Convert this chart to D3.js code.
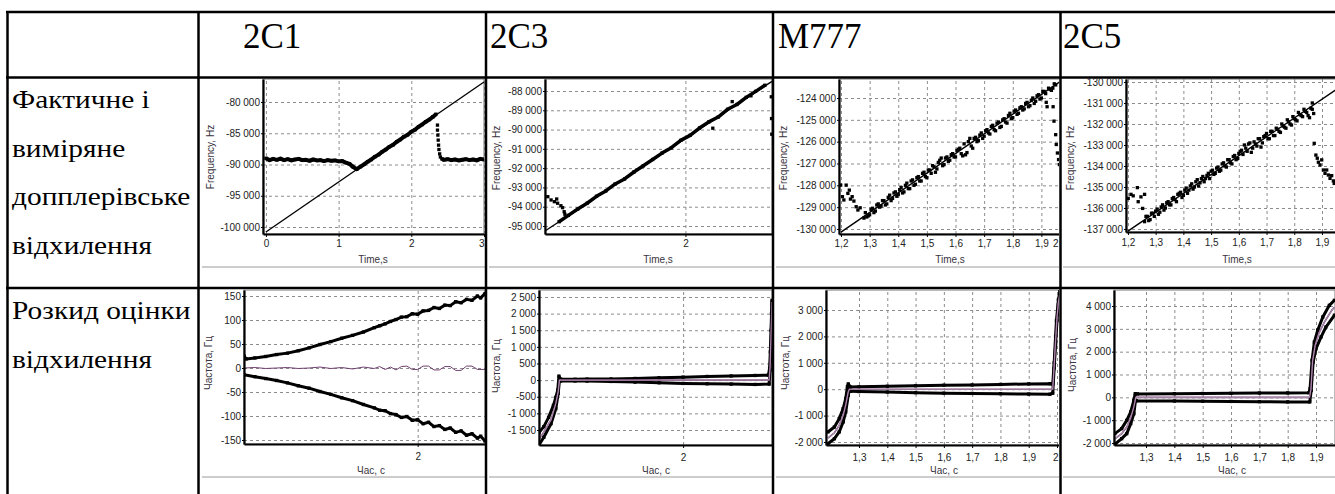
<!DOCTYPE html>
<html>
<head>
<meta charset="utf-8">
<script src="https://cdn.jsdelivr.net/npm/d3@7"></script>
<style>
  body { margin: 0; background: #fff; }
  svg { display: block; }
  .grid line { stroke: #8c8c8c; stroke-dasharray: 3,3; }
  .grid path { display: none; }
  .ax text { font-family: "Liberation Sans", Arial, sans-serif; font-size: 10px; fill: #222; }
  .ax path, .ax line { stroke: #000; }
  .ttl { font-family: "Liberation Sans", Arial, sans-serif; font-size: 10px; fill: #3a3340; }
  .cap { font-family: "Liberation Serif", "Times New Roman", serif; fill: #000; }
</style>
</head>
<body>
<svg id="chart" width="1335" height="494"></svg>
<script>
// ---- table text ----
const colNames = ['2C1', '2C3', 'M777', '2C5'];
const rowLabels1 = ['Фактичне і', 'виміряне', 'допплерівське', 'відхилення'];
const rowLabels2 = ['Розкид оцінки', 'відхилення'];

// ---- tick values ----
const yTicks1 = [-100000, -95000, -90000, -85000, -80000];
const yTicks2 = [-95000, -94000, -93000, -92000, -91000, -90000, -89000, -88000];
const yTicks3 = [-130000, -129000, -128000, -127000, -126000, -125000, -124000];
const yTicks4 = [-137000, -136000, -135000, -134000, -133000, -132000, -131000, -130000];
const yTicks5 = [-150, -100, -50, 0, 50, 100, 150];
const yTicks6 = [-1500, -1000, -500, 0, 500, 1000, 1500, 2000, 2500];
const yTicks7 = [-2000, -1000, 0, 1000, 2000, 3000];
const yTicks8 = [-2000, -1000, 0, 1000, 2000, 3000, 4000];
const xTicks1 = [0, 1, 2, 3];
const xTicks2 = [2];
const xTicks3 = [1.2, 1.3, 1.4, 1.5, 1.6, 1.7, 1.8, 1.9, 2];
const xTicks4 = [1.2, 1.3, 1.4, 1.5, 1.6, 1.7, 1.8, 1.9];
const xTicks7 = [1.3, 1.4, 1.5, 1.6, 1.7, 1.8, 1.9, 2];
const xTicks8 = [1.3, 1.4, 1.5, 1.6, 1.7, 1.8, 1.9];

// ---- row 1: actual (line) and measured doppler shift, [time s, Hz] ----
const actual1 = [[0, -100800], [3, -76800]];
const band1 = [[0,-89000],[0.05,-89300],[0.1,-89100],[0.15,-89250],[0.2,-89050],[0.25,-89300],[0.3,-89150],[0.35,-89350],
  [0.4,-89200],[0.45,-89100],[0.5,-89300],[0.55,-89250],[0.6,-89400],[0.65,-89200],[0.7,-89350],[0.75,-89300],[0.8,-89450],
  [0.85,-89300],[0.9,-89400],[0.95,-89350],[1,-89500],[1.05,-89450],[1.1,-89700],[1.15,-89900],[1.18,-90200],[1.2,-90400],
  [1.25,-90750],[1.3,-90350],[1.35,-89980],[1.4,-89550],[1.45,-89200],[1.5,-88750],[1.55,-88420],[1.6,-87950],[1.65,-87600],
  [1.7,-87150],[1.75,-86850],[1.8,-86350],[1.85,-86000],[1.9,-85550],[1.95,-85250],[2,-84750],[2.05,-84450],[2.1,-83950],
  [2.15,-83600],[2.2,-83150],[2.25,-82800],[2.3,-82350],[2.34,-81950],[null,null],
  [2.42,-89100],[2.45,-89250],[2.5,-89150],[2.55,-89300],[2.6,-89200],[2.65,-89350],[2.7,-89250],[2.75,-89150],[2.8,-89300],
  [2.85,-89200],[2.9,-89350],[2.95,-89100],[3,-89200]];
const dots1 = [[2.36,-83700],[2.36,-84500],[2.365,-85300],[2.37,-86100],[2.375,-86900],[2.38,-87600],[2.39,-88300],[2.4,-88800]];

const actual2 = [[1.4, -95260], [2.37, -87500]];
const band2 = [[1.46,-94780],[1.5,-94450],[1.54,-94120],[1.58,-93820],[1.62,-93460],[1.66,-93180],[1.7,-92820],[1.74,-92560],
  [1.78,-92200],[1.82,-91880],[1.86,-91550],[1.9,-91220],[1.94,-90940],[1.98,-90560],[2.02,-90300],[2.06,-89920],[2.1,-89600],
  [2.14,-89350],[2.18,-88950],[2.22,-88700],[2.26,-88330],[2.3,-88020],[2.34,-87700]];
const dots2 = [[1.412,-93480],[1.426,-93650],[1.44,-93740],[1.45,-93600],[1.454,-93820],[1.468,-93950],[1.475,-94050],
  [1.482,-94260],[1.485,-94390],[2.117,-89930],[2.2,-88550],[2.28,-88250],[2.367,-88300],[2.368,-89430],[2.369,-90240]];

const actual3 = [[1.2, -130140], [2.0, -122940]];
const dots3 = [[1.199,-127990],[1.205,-128520],[1.21,-128670],[1.218,-127990],[1.224,-128370],[1.229,-128220],[1.233,-128630],
  [1.239,-128520],[1.245,-128720],[1.253,-128980],[1.259,-129130],[1.267,-129030],
  [1.28,-129500],[1.29,-129450],[1.3,-129350],[1.31,-129050],[1.32,-129180],[1.33,-128850],[1.34,-128950],[1.35,-128700],
  [1.36,-128850],[1.37,-128450],[1.38,-128600],[1.39,-128300],[1.4,-128420],[1.41,-128100],[1.42,-128300],[1.43,-127900],
  [1.44,-128150],[1.45,-127750],[1.46,-127950],[1.47,-127600],[1.48,-127800],[1.49,-127400],[1.5,-127650],[1.51,-127300],
  [1.52,-127100],[1.53,-127400],[1.54,-126950],[1.55,-126750],[1.56,-127050],[1.57,-126700],[1.58,-126850],[1.59,-126550],
  [1.6,-126700],[1.61,-126350],[1.62,-126550],[1.63,-126100],[1.64,-126500],[1.65,-125850],[1.66,-126300],[1.67,-125800],
  [1.68,-125950],[1.69,-125600],[1.7,-125750],[1.71,-125450],[1.72,-125650],[1.73,-125250],[1.74,-125500],[1.75,-125100],
  [1.76,-125300],[1.77,-124950],[1.78,-125150],[1.79,-124700],[1.8,-124900],[1.81,-124550],[1.82,-124700],[1.83,-124400],
  [1.84,-124500],[1.85,-124200],[1.86,-124350],[1.87,-124000],[1.88,-124150],[1.89,-123850],[1.9,-124000],[1.91,-123700],
  [1.92,-124400],[1.93,-123600],[1.94,-123550],[1.95,-123400],
  [1.917,-124200],[1.941,-124400],[1.944,-125060],[1.95,-125680],[1.952,-126130],[1.956,-126520],[1.96,-126820],[1.963,-127050]];
const dots3b = [[1.285,-129250],[1.295,-129400],[1.305,-129100],[1.315,-129250],[1.325,-128900],[1.335,-129000],
  [1.345,-128700],[1.355,-128900],[1.365,-128550],[1.375,-128700],[1.385,-128350],[1.395,-128500],[1.405,-128200],
  [1.415,-128350],[1.425,-128000],[1.435,-128150],[1.445,-127800],[1.455,-128000],[1.465,-127650],[1.475,-127800],
  [1.485,-127450],[1.495,-127600],[1.505,-127300],[1.515,-127450],[1.525,-127150],[1.535,-127250],[1.545,-126850],
  [1.555,-127100],[1.565,-126750],[1.575,-126900],[1.585,-126600],[1.595,-126700],[1.605,-126400],[1.615,-126300],
  [1.625,-126650],[1.635,-126600],[1.645,-126000],[1.655,-126200],[1.665,-125850],[1.675,-126000],[1.685,-125700],
  [1.695,-125850],[1.705,-125500],[1.715,-125600],[1.725,-125300],[1.735,-125450],[1.745,-125150],[1.755,-125350],
  [1.765,-125000],[1.775,-125100],[1.785,-124800],[1.795,-124950],[1.805,-124600],[1.815,-124750],[1.825,-124450],
  [1.835,-124550],[1.845,-124250],[1.855,-124400],[1.865,-124100],[1.875,-124250],[1.885,-123900],[1.895,-124050],
  [1.905,-123700],[1.915,-123800],[1.925,-123550],[1.935,-123650],[1.945,-123350]];

const actual4 = [[1.2, -137100], [2.0, -129920]];
const dots4 = [[1.201,-135540],[1.211,-135350],[1.219,-135420],[1.234,-135030],[1.237,-135700],[1.247,-135470],[1.253,-136020],
  [1.26,-135350],
  [1.26,-136650],[1.27,-136400],[1.28,-136550],[1.29,-136250],[1.3,-136150],[1.31,-136300],[1.32,-135950],[1.33,-136100],
  [1.34,-135750],[1.35,-135850],[1.36,-135550],[1.37,-135600],[1.38,-135350],[1.39,-135250],[1.4,-135400],[1.41,-135050],
  [1.42,-135150],[1.43,-134850],[1.44,-135000],[1.45,-134650],[1.46,-134800],[1.47,-134500],[1.48,-134600],[1.49,-134350],
  [1.5,-134250],[1.51,-134400],[1.52,-134100],[1.53,-134250],[1.54,-133900],[1.55,-134000],[1.56,-133700],[1.57,-133850],
  [1.58,-133550],[1.59,-133700],[1.6,-133400],[1.61,-133250],[1.62,-133000],[1.63,-133300],[1.64,-132900],[1.65,-133150],
  [1.66,-132950],[1.67,-132700],[1.68,-133100],[1.69,-132600],[1.7,-132450],[1.71,-132700],[1.72,-132350],[1.73,-132550],
  [1.74,-132250],[1.75,-132400],[1.76,-132100],[1.77,-132200],[1.78,-131900],[1.79,-132050],[1.8,-131750],[1.81,-131850],
  [1.82,-131550],[1.83,-131650],[1.84,-131400],[1.85,-131600],[1.86,-131250],[1.87,-131500],[1.865,-131000],
  [1.872,-132920],[1.878,-133480],[1.883,-133630],[1.887,-133820],[1.893,-133950],[1.899,-133710],[1.905,-134190],
  [1.911,-134350],[1.917,-134190],[1.923,-134430],[1.929,-134590],[1.935,-134460],[1.941,-134710],[1.944,-134830]];
const dots4b = [[1.265,-136400],[1.275,-136600],[1.285,-136250],[1.295,-136400],[1.305,-136050],[1.315,-136200],
  [1.325,-135850],[1.335,-136000],[1.345,-135700],[1.355,-135850],[1.365,-135500],[1.375,-135700],[1.385,-135300],
  [1.395,-135500],[1.405,-135150],[1.415,-135300],[1.425,-134950],[1.435,-135100],[1.445,-134750],[1.455,-134950],
  [1.465,-134600],[1.475,-134750],[1.485,-134450],[1.495,-134600],[1.505,-134200],[1.515,-134350],[1.525,-134050],
  [1.535,-134200],[1.545,-133850],[1.555,-134050],[1.565,-133700],[1.575,-133900],[1.585,-133500],[1.595,-133650],
  [1.605,-133300],[1.615,-133450],[1.625,-133150],[1.635,-132950],[1.645,-133350],[1.655,-132850],[1.665,-133050],
  [1.675,-132700],[1.685,-132900],[1.695,-132550],[1.705,-132700],[1.715,-132350],[1.725,-132550],[1.735,-132200],
  [1.745,-132350],[1.755,-132000],[1.765,-132150],[1.775,-131800],[1.785,-132000],[1.795,-131650],[1.805,-131800],
  [1.815,-131450],[1.825,-131600],[1.835,-131300],[1.845,-131450],[1.855,-131700],[1.865,-131300]];

// ---- row 2: spread of the estimate, [time s, Hz] ----
const upper5 = [[1.2,25],[1.21,19],[1.25,21],[1.3,24],[1.35,28],[1.4,31],[1.45,36],[1.5,42],[1.55,49],[1.6,55],[1.65,62],
  [1.7,68],[1.75,75],[1.8,84],[1.825,88],[1.85,92],[1.875,97],[1.9,101],[1.925,106],[1.95,107],[1.975,113],[2,112],
  [2.025,119],[2.05,120],[2.075,126],[2.1,124],[2.125,131],[2.15,130],[2.175,138],[2.2,136],[2.225,143],[2.25,141],
  [2.275,150],[2.29,146],[2.31,155]];
const lower5 = [[1.2,-14],[1.25,-18],[1.3,-22],[1.35,-26],[1.4,-31],[1.45,-37],[1.5,-42],[1.55,-49],[1.6,-55],[1.65,-62],
  [1.7,-68],[1.75,-76],[1.8,-83],[1.825,-88],[1.85,-89],[1.875,-95],[1.9,-97],[1.925,-103],[1.95,-101],[1.975,-109],
  [2,-108],[2.025,-116],[2.05,-113],[2.075,-122],[2.1,-120],[2.125,-128],[2.15,-125],[2.175,-134],[2.2,-131],[2.225,-140],
  [2.25,-137],[2.275,-146],[2.29,-142],[2.31,-152]];
const mid5 = [[1.2,0],[1.25,1],[1.3,-1],[1.35,0],[1.4,1],[1.45,-1],[1.5,0],[1.55,2],[1.6,-1],[1.65,1],[1.7,-2],[1.75,2],
  [1.8,-1],[1.825,3],[1.85,-3],[1.875,2],[1.9,-4],[1.925,3],[1.95,4],[1.975,-3],[2,-3],[2.025,4],[2.05,4],[2.075,-4],
  [2.1,-4],[2.125,3],[2.15,3],[2.175,-5],[2.2,-5],[2.225,4],[2.25,4],[2.275,-3],[2.31,-3]];

const upper6 = [[1.4,-1580],[1.42,-1400],[1.44,-1120],[1.46,-760],[1.47,-520],[1.478,-300],[1.483,120],[1.49,30],[1.55,25],
  [1.6,30],[1.7,35],[1.8,50],[1.9,70],[2,90],[2.1,110],[2.2,125],[2.3,140],[2.355,150],[2.36,350],[2.363,850],[2.366,1500],
  [2.368,2000],[2.37,2400]];
const lower6 = [[1.4,-1950],[1.42,-1720],[1.45,-1310],[1.47,-860],[1.48,-400],[1.485,-20],[1.49,-25],[1.55,-25],[1.6,-30],
  [1.7,-40],[1.8,-60],[1.9,-80],[2,-100],[2.1,-110],[2.2,-120],[2.3,-130],[2.358,-120],[2.362,300],[2.365,800],[2.368,1600],
  [2.37,2300]];
const mid6 = [[1.4,-1780],[1.42,-1560],[1.45,-1200],[1.47,-700],[1.48,-350],[1.485,0],[1.6,0],[2,0],[2.3,0],[2.358,0],
  [2.362,400],[2.366,1300],[2.37,2350]];

const upper7 = [[1.19,-1620],[1.213,-1430],[1.23,-1115],[1.244,-735],[1.253,-355],[1.259,90],[1.262,200],[1.27,80],[1.3,90],
  [1.4,110],[1.5,130],[1.6,150],[1.7,160],[1.8,180],[1.9,200],[1.975,210],[1.985,200],[1.99,1000],[1.995,2000],[1.998,2600],
  [2.005,3400],[2.01,3700]];
const lower7 = [[1.19,-2065],[1.213,-1876],[1.23,-1620],[1.244,-1240],[1.253,-860],[1.262,-230],[1.266,-20],[1.27,-80],
  [1.3,-90],[1.4,-110],[1.5,-130],[1.6,-150],[1.7,-160],[1.8,-170],[1.9,-185],[1.975,-190],[1.985,-150],[1.99,800],
  [1.995,1700],[2,2600],[2.005,3200],[2.01,3500]];
const mid7 = [[1.19,-1850],[1.213,-1650],[1.23,-1370],[1.244,-990],[1.253,-600],[1.262,-100],[1.266,0],[1.5,0],[1.8,0],
  [1.985,0],[1.99,900],[1.995,1850],[2,2700],[2.005,3300],[2.01,3600]];

const upper8 = [[1.19,-1590],[1.214,-1370],[1.232,-1010],[1.246,-640],[1.257,-130],[1.262,160],[1.27,150],[1.4,160],
  [1.5,170],[1.6,175],[1.7,190],[1.8,195],[1.875,200],[1.879,380],[1.886,1620],[1.894,2420],[1.906,2940],[1.924,3520],
  [1.947,4030],[1.965,4250]];
const lower8 = [[1.19,-2060],[1.214,-1810],[1.232,-1590],[1.246,-1150],[1.257,-720],[1.263,-130],[1.266,-150],[1.4,-160],
  [1.5,-170],[1.6,-180],[1.7,-190],[1.8,-200],[1.878,-200],[1.883,300],[1.89,1550],[1.9,2130],[1.918,2650],[1.935,3080],
  [1.965,3600]];
const mid8 = [[1.19,-1820],[1.214,-1590],[1.232,-1300],[1.246,-900],[1.257,-420],[1.264,0],[1.5,0],[1.877,0],[1.882,350],
  [1.888,1600],[1.897,2280],[1.91,2800],[1.93,3300],[1.955,3800],[1.965,3950]];

// ---- layout ----
const svg = d3.select('#chart');
const defs = svg.append('defs');
const locale = d3.formatLocale({decimal: ',', thousands: ' ', grouping: [3], currency: ['', ''], minus: '-'});
const fmtY = locale.format(',d');
const fmtX = locale.format('.1~f');

const charts = [
  {id: 1, cell: [200, 78.5, 285, 208], xr: [263, 484], yr: [234, 79], xd: [-0.04, 3], yd: [-101120, -76320],
   xt: xTicks1, yt: yTicks1, xl: 'Time,s', yl: 'Frequency, Hz', xlp: [373, 262.5], ylp: [210, 157], pad: 3,
   actual: actual1, band: band1, dots: dots1, bw: 4},
  {id: 2, cell: [487, 78.5, 285, 208], xr: [545, 772], yr: [234, 79], xd: [1.4, 2.37], yd: [-95415, -87378],
   xt: xTicks2, yt: yTicks2, xl: 'Time,s', yl: 'Frequency, Hz', xlp: [658, 262.5], ylp: [496, 158], pad: 3,
   actual: actual2, band: band2, dots: dots2, bw: 3.5},
  {id: 3, cell: [774, 78.5, 285, 208], xr: [839, 1070], yr: [234, 79], xd: [1.193, 2.0], yd: [-130229, -123130],
   xt: xTicks3, yt: yTicks3, xl: 'Time,s', yl: 'Frequency, Hz', xlp: [950, 262.5], ylp: [783, 158], pad: 3,
   actual: actual3, dots: dots3.concat(dots3b)},
  {id: 4, cell: [1061, 78.5, 274, 208], xr: [1126, 1349.7], yr: [232, 79], xd: [1.193, 2.0], yd: [-137143, -129857],
   xt: xTicks4, yt: yTicks4, xl: 'Time,s', yl: 'Frequency, Hz', xlp: [1237, 262.5], ylp: [1070, 158], pad: 4,
   actual: actual4, dots: dots4.concat(dots4b)},
  {id: 5, cell: [200, 289.5, 285, 205], xr: [244, 485], yr: [444, 290], xd: [1.2, 2.31], yd: [-158.3, 162.5],
   xt: xTicks2, yt: yTicks5, xl: 'Час, с', yl: 'Частота, Гц', xlp: [371, 474], ylp: [208, 363], pad: 6,
   upper: upper5, lower: lower5, mid: mid5, thinMid: true},
  {id: 6, cell: [487, 289.5, 285, 205], xr: [539, 772], yr: [445, 290], xd: [1.4, 2.37], yd: [-1951, 2710],
   xt: xTicks2, yt: yTicks6, xl: 'Час, с', yl: 'Частота, Гц', xlp: [656, 474], ylp: [496, 366], pad: 6,
   upper: upper6, lower: lower6, mid: mid6},
  {id: 7, cell: [774, 289.5, 285, 205], xr: [826, 1060], yr: [445, 290], xd: [1.1833, 2.0106], yd: [-2114, 3758],
   xt: xTicks7, yt: yTicks7, xl: 'Час, с', yl: 'Частота, Гц', xlp: [944, 474], ylp: [785, 363], pad: 6,
   upper: upper7, lower: lower7, mid: mid7},
  {id: 8, cell: [1061, 289.5, 274, 205], xr: [1114, 1335], yr: [445, 290], xd: [1.187, 1.967], yd: [-2088, 4701],
   xt: xTicks8, yt: yTicks8, xl: 'Час, с', yl: 'Частота, Гц', xlp: [1232, 474], ylp: [1072, 365], pad: 6,
   upper: upper8, lower: lower8, mid: mid8}
];

charts.forEach(drawChart);

function drawChart(c) {
  let [cx, cy, cw, ch] = c.cell;
  defs.append('clipPath').attr('id', 'cell' + c.id).append('rect')
    .attr('x', cx).attr('y', cy).attr('width', cw).attr('height', ch);
  defs.append('clipPath').attr('id', 'plot' + c.id).append('rect')
    .attr('x', c.xr[0]).attr('y', c.yr[1]).attr('width', c.xr[1] - c.xr[0]).attr('height', c.yr[0] - c.yr[1]);

  let g = svg.append('g').attr('clip-path', 'url(#cell' + c.id + ')');
  let x = d3.scaleLinear().domain(c.xd).range(c.xr);
  let y = d3.scaleLinear().domain(c.yd).range(c.yr);
  let pw = c.xr[1] - c.xr[0], ph = c.yr[0] - c.yr[1];

  // grid
  g.append('g').attr('class', 'grid').attr('transform', 'translate(0,' + c.yr[0] + ')')
    .call(d3.axisBottom(x).tickValues(c.xt).tickSize(-ph).tickFormat(''));
  g.append('g').attr('class', 'grid').attr('transform', 'translate(' + c.xr[0] + ',0)')
    .call(d3.axisLeft(y).tickValues(c.yt).tickSize(-pw).tickFormat(''));

  // plot frame
  g.append('rect').attr('x', c.xr[0]).attr('y', c.yr[1]).attr('width', pw).attr('height', ph)
    .attr('fill', 'none').attr('stroke', '#777').attr('stroke-width', 1);

  let pg = g.append('g').attr('clip-path', 'url(#plot' + c.id + ')');
  let line = d3.line().defined(d => d[0] != null).x(d => x(d[0])).y(d => y(d[1]));
  let sq = 3.3;

  function squares(data, color) {
    pg.append('g').selectAll('rect').data(data.filter(d => d[0] != null)).join('rect')
      .attr('x', d => x(d[0]) - sq / 2).attr('y', d => y(d[1]) - sq / 2)
      .attr('width', sq).attr('height', sq).attr('fill', color);
  }

  if (c.band) {
    pg.append('path').datum(c.band).attr('d', line).attr('fill', 'none')
      .attr('stroke', '#000').attr('stroke-width', c.bw).attr('stroke-linejoin', 'round');
    squares(c.band, '#000');
  }
  if (c.dots) squares(c.dots, '#000');
  if (c.actual) {
    pg.append('path').datum(c.actual).attr('d', line).attr('fill', 'none')
      .attr('stroke', '#000').attr('stroke-width', 1.4);
  }
  if (c.upper) {
    [c.upper, c.lower].forEach(s => {
      pg.append('path').datum(s).attr('d', line).attr('fill', 'none')
        .attr('stroke', '#000').attr('stroke-width', 3).attr('stroke-linejoin', 'round');
      squares(s, '#000');
    });
    pg.append('path').datum(c.mid).attr('d', line).attr('fill', 'none')
      .attr('stroke', '#6e3f6e').attr('stroke-width', c.thinMid ? 1 : 1.6);
    if (!c.thinMid) {
      pg.append('path').datum(c.mid).attr('d', line).attr('fill', 'none')
        .attr('stroke', '#e6cde6').attr('stroke-width', 0.6);
    }
  }

  // axes
  let ay = g.append('g').attr('class', 'ax').attr('transform', 'translate(' + c.xr[0] + ',0)')
    .call(d3.axisLeft(y).tickValues(c.yt).tickFormat(fmtY).tickSize(2).tickPadding(1).tickSizeOuter(0));
  let ax = g.append('g').attr('class', 'ax').attr('transform', 'translate(0,' + c.yr[0] + ')')
    .call(d3.axisBottom(x).tickValues(c.xt).tickFormat(fmtX).tickSize(3).tickPadding(c.pad).tickSizeOuter(0));
  [ay, ax].forEach(a => a.select('.domain').attr('stroke-width', 2.2));

  // keep the last tick label inside the picture
  let right = cx + cw - 1;
  ax.selectAll('.tick').each(function (d) {
    if (x(d) + 3 > right) {
      d3.select(this).select('text').attr('text-anchor', 'end').attr('x', right - x(d));
    }
  });

  g.append('text').attr('class', 'ttl').attr('x', c.xlp[0]).attr('y', c.xlp[1])
    .attr('text-anchor', 'middle').text(c.xl);
  g.append('text').attr('class', 'ttl').attr('text-anchor', 'middle')
    .attr('transform', 'translate(' + c.ylp[0] + ',' + c.ylp[1] + ') rotate(-90)')
    .attr('dy', '0.35em').text(c.yl);

  // bottom edge of the embedded picture
  let by = c.id <= 4 ? 267 : 477;
  svg.append('line').attr('x1', cx + 2).attr('x2', cx + cw).attr('y1', by).attr('y2', by)
    .attr('stroke', '#9a9a9a').attr('stroke-width', 1);
}

// ---- table frame and text ----
const hLines = [12, 77.5, 288];
const vLines = [7.5, 198.5, 486, 773, 1060.5];
svg.append('g').selectAll('line.h').data(hLines).join('line')
  .attr('x1', 6).attr('x2', 1335).attr('y1', d => d).attr('y2', d => d)
  .attr('stroke', '#000').attr('stroke-width', 2.5);
svg.append('g').selectAll('line.v').data(vLines).join('line')
  .attr('x1', d => d).attr('x2', d => d).attr('y1', 11).attr('y2', 494)
  .attr('stroke', '#000').attr('stroke-width', 2.5);

const headX = [243, 490, 778, 1063];
svg.append('g').selectAll('text').data(colNames).join('text')
  .attr('class', 'cap').attr('x', (d, i) => headX[i]).attr('y', 48)
  .style('font-size', '35px').text(d => d);

// the row captions in the source are set a little wider than Liberation Serif
const rowG = svg.append('g').attr('transform', 'translate(12,0) scale(1.13,1)');
rowG.selectAll('text.r1').data(rowLabels1).join('text')
  .attr('class', 'cap').attr('x', 0).attr('y', (d, i) => 108 + i * 48.6)
  .style('font-size', '26px').text(d => d);
rowG.selectAll('text.r2').data(rowLabels2).join('text')
  .attr('class', 'cap').attr('x', 0).attr('y', (d, i) => 319 + i * 48.6)
  .style('font-size', '26px').text(d => d);
</script>
</body>
</html>
